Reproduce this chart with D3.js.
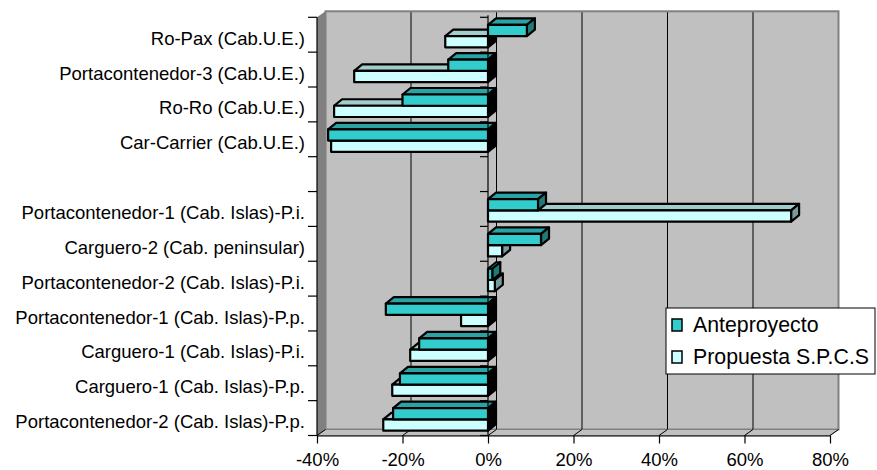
<!DOCTYPE html>
<html>
<head>
<meta charset="utf-8">
<script src="https://cdn.jsdelivr.net/npm/d3@7"></script>
<style>
  body { margin: 0; background: #fff; }
  svg { display: block; }
  text { font-family: Arial, "Liberation Sans", sans-serif; fill: #000; }
</style>
</head>
<body>
<svg id="chart" width="877" height="470"></svg>
<script>
// Categories, top to bottom (the empty one is a spacer row)
const categories = [
  "Ro-Pax (Cab.U.E.)",
  "Portacontenedor-3 (Cab.U.E.)",
  "Ro-Ro (Cab.U.E.)",
  "Car-Carrier (Cab.U.E.)",
  "",
  "Portacontenedor-1 (Cab. Islas)-P.i.",
  "Carguero-2 (Cab. peninsular)",
  "Portacontenedor-2 (Cab. Islas)-P.i.",
  "Portacontenedor-1 (Cab. Islas)-P.p.",
  "Carguero-1 (Cab. Islas)-P.i.",
  "Carguero-1 (Cab. Islas)-P.p.",
  "Portacontenedor-2 (Cab. Islas)-P.p."
];
// Percent variation per series
const anteproyecto = [9.1, -9.3, -20.0, -37.4, null, 11.7, 12.4, 1.0, -23.9, -16.1, -20.6, -22.2];
const propuesta    = [-10.0, -31.3, -36.0, -36.7, null, 70.9, 3.3, 1.6, -6.3, -18.2, -22.4, -24.5];
const seriesNames = ["Anteproyecto", "Propuesta S.P.C.S"];
const tickValues = [-40, -20, 0, 20, 40, 60, 80];

const palette = {
  ante: { front: "#33CCCC", top: "#29A3A3", side: "#1F7A7A" },
  prop: { front: "#CCFFFF", top: "#A3CCCC", side: "#7A9999" }
};

const svg = d3.select("#chart");
const x = d3.scaleLinear().domain([-40, 80]).range([317, 830]);
const y = d3.scaleBand().domain(d3.range(categories.length)).range([17.3, 435.5]);
const bw = y.bandwidth();

const [plotL, plotR] = x.range();
const [plotT, plotB] = y.range();
const WDX = 8.5, WDY = 6;   // wall depth
const BDX = 8, BDY = 6.5;   // bar depth

const poly = pts => "M" + pts.map(p => p.join(",")).join("L") + "Z";

// Back wall
svg.append("rect")
  .attr("x", plotL + WDX).attr("y", plotT - WDY)
  .attr("width", plotR - plotL).attr("height", plotB - plotT)
  .attr("fill", "#C0C0C0").attr("stroke", "#808080").attr("stroke-width", 2);

// Gridlines on the back wall
svg.append("g").selectAll("line")
  .data(tickValues.slice(1, -1))
  .join("line")
  .attr("x1", d => x(d) + WDX).attr("x2", d => x(d) + WDX)
  .attr("y1", plotT - WDY + 1).attr("y2", plotB - WDY)
  .attr("stroke", "#000").attr("stroke-width", 1);

// Side wall
svg.append("path")
  .attr("d", poly([[plotL, plotT], [plotL + WDX, plotT - WDY], [plotL + WDX, plotB - WDY], [plotL, plotB]]))
  .attr("fill", "#808080");

// Floor
svg.append("path")
  .attr("d", poly([[plotL, plotB], [plotL + WDX, plotB - WDY], [plotR + WDX, plotB - WDY], [plotR, plotB]]))
  .attr("fill", "#C0C0C0").attr("stroke", "#808080").attr("stroke-width", 1);

svg.append("g").selectAll("line")
  .data(tickValues)
  .join("line")
  .attr("x1", d => x(d)).attr("y1", plotB)
  .attr("x2", d => x(d) + WDX).attr("y2", plotB - WDY)
  .attr("stroke", "#000").attr("stroke-width", 1);

// 3D bars
function drawBar(g, v, yTop, h, col) {
  const x0 = x(Math.min(0, v)), x1 = x(Math.max(0, v));
  const sideFill = v < 0 ? "#000" : col.side;
  g.append("path")
    .attr("d", poly([[x0, yTop], [x0 + BDX, yTop - BDY], [x1 + BDX, yTop - BDY], [x1, yTop]]))
    .attr("fill", col.top);
  g.append("path")
    .attr("d", poly([[x1, yTop], [x1 + BDX, yTop - BDY], [x1 + BDX, yTop + h - BDY], [x1, yTop + h]]))
    .attr("fill", sideFill);
  g.append("rect")
    .attr("x", x0).attr("y", yTop).attr("width", x1 - x0).attr("height", h)
    .attr("fill", col.front);
  g.selectAll("path, rect")
    .attr("stroke", "#000").attr("stroke-width", 2.2).attr("stroke-linejoin", "round");
}

const barH = bw * 0.323;
const barsG = svg.append("g");
categories.forEach((c, i) => {
  const bt = y(i);
  const anteTop = bt + bw * 0.215;
  const propTop = anteTop + barH;
  if (propuesta[i] != null) drawBar(barsG.append("g"), propuesta[i], propTop, barH, palette.prop);
  if (anteproyecto[i] != null) drawBar(barsG.append("g"), anteproyecto[i], anteTop, barH, palette.ante);
});

// Category axis lines with ticks at band edges
const edges = d3.range(categories.length).map(i => y(i)).concat([plotB]);
svg.append("line")
  .attr("x1", plotL).attr("x2", plotL).attr("y1", plotT).attr("y2", plotB)
  .attr("stroke", "#000").attr("stroke-width", 1.2);
svg.append("g").selectAll("line")
  .data(edges).join("line")
  .attr("x1", plotL - 9).attr("x2", plotL).attr("y1", d => d).attr("y2", d => d)
  .attr("stroke", "#000").attr("stroke-width", 1.2);

svg.append("line")
  .attr("x1", x(0)).attr("x2", x(0)).attr("y1", plotT - 2).attr("y2", plotB)
  .attr("stroke", "#000").attr("stroke-width", 1.2);
svg.append("g").selectAll("line")
  .data(edges).join("line")
  .attr("x1", x(0) - 8).attr("x2", x(0)).attr("y1", d => d).attr("y2", d => d)
  .attr("stroke", "#000").attr("stroke-width", 1.2);

// Category labels
svg.append("g").selectAll("text")
  .data(categories).join("text")
  .attr("x", plotL - 12)
  .attr("y", (d, i) => y(i) + bw / 2 + 3.5)
  .attr("text-anchor", "end")
  .attr("dominant-baseline", "central")
  .attr("font-size", 18.5)
  .text(d => d);

// Value axis
const xAxis = d3.axisBottom(x)
  .tickValues(tickValues)
  .tickFormat(d => d + "%")
  .tickSize(8)
  .tickSizeOuter(0)
  .tickPadding(9.5);
const ax = svg.append("g").attr("transform", `translate(0,${plotB})`).call(xAxis);
ax.select(".domain").attr("stroke", "#000").attr("stroke-width", 1.2);
ax.selectAll(".tick line").attr("stroke", "#000").attr("stroke-width", 1.2);
ax.selectAll(".tick text")
  .attr("font-size", 18.5)
  .attr("font-family", "Arial, 'Liberation Sans', sans-serif")
  .attr("fill", "#000");

// Legend
const legend = svg.append("g");
legend.append("rect")
  .attr("x", 666).attr("y", 308).attr("width", 209).attr("height", 66)
  .attr("fill", "#fff").attr("stroke", "#000").attr("stroke-width", 1);
const legendCols = [palette.ante.front, palette.prop.front];
seriesNames.forEach((name, k) => {
  const ly = 319 + k * 32;
  legend.append("rect")
    .attr("x", 672).attr("y", ly).attr("width", 10).attr("height", 12)
    .attr("fill", legendCols[k]).attr("stroke", "#000").attr("stroke-width", 1.5);
  legend.append("text")
    .attr("x", 693).attr("y", ly + 13)
    .attr("font-size", 21.3)
    .text(name);
});
</script>
</body>
</html>
